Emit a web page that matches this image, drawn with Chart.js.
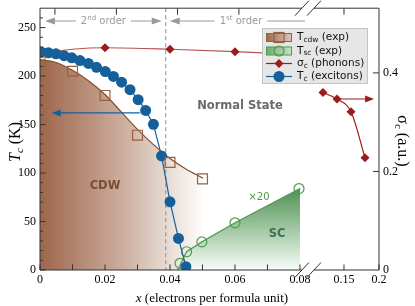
<!DOCTYPE html>
<html><head><meta charset="utf-8">
<script src="https://cdn.jsdelivr.net/npm/chart.js@4/dist/chart.umd.min.js"></script>
<style>html,body{margin:0;padding:0;background:#fff}canvas{display:block}</style>
</head><body>
<canvas id="c" width="415" height="306" style="width:415px;height:306px"></canvas>
<script>
// ---------------- data ----------------
const TCDW_X = [0, 0.01, 0.02, 0.03, 0.04, 0.05];
const TCDW_T = [215, 205, 180, 139, 111, 94];
const CDW_FIT_X = [0, 0.005, 0.01, 0.015, 0.02, 0.025, 0.03, 0.035, 0.04, 0.045, 0.05];
const CDW_FIT_T = [217, 214, 206, 195, 181, 163, 145, 129, 115, 104, 95];
const TSC_X = [0.0431, 0.0451, 0.0498, 0.06, 0.0797];
const TSC_T = [6.9, 18.8, 29, 48.7, 84];
const SC_FIT_X = [0.0424, 0.0451, 0.0498, 0.06, 0.08];
const SC_FIT_T = [0, 18.8, 29, 48.7, 84];
const SIGMA_X = [0.02, 0.04, 0.06, 0.12, 0.14, 0.16, 0.18];
const SIGMA_V = [0.451, 0.448, 0.443, 0.360, 0.347, 0.321, 0.228];
const SIGMA_FIT1_X = [0, 0.01, 0.02, 0.04, 0.06, 0.07];
const SIGMA_FIT1_V = [0.440, 0.448, 0.451, 0.448, 0.443, 0.440];
const SIGMA_FIT2_X = [0.12, 0.14, 0.16, 0.18];
const SIGMA_FIT2_V = [0.360, 0.347, 0.321, 0.228];
const TC_X = [0.0005, 0.0026, 0.0049, 0.0074, 0.0098, 0.0123, 0.0149, 0.0174, 0.0201, 0.0226,
              0.0251, 0.0277, 0.0302, 0.0325, 0.0349, 0.0374, 0.0400, 0.0426, 0.0449];
const TC_T = [224.6, 224, 223, 221, 218.8, 216, 213, 209, 204.7, 199.6,
              193.7, 186, 175.6, 164.6, 150.2, 117.6, 70.3, 32.6, 3.4];
const X_TICKS = [0, 0.01, 0.02, 0.03, 0.04, 0.05, 0.06, 0.07, 0.08, 0.15, 0.2];
const X_LABELED = {0: '0', 0.02: '0.02', 0.04: '0.04', 0.06: '0.06', 0.08: '0.08', 0.15: '0.15', 0.2: '0.2'};
const TOP_TICKS = [0.0046, 0.0235, 0.0423, 0.0612, 0.15];
const Y_TICKS = [0, 50, 100, 150, 200, 250];
const Y2_TICKS = [0, 0.2, 0.4];
const ORDER_SPLIT_X = 0.0387;           // dashed 1st/2nd order boundary
const EXC_ARROW = {x0: 0.0307, x1: 0.0036, T: 162};
const PHON_ARROW = {x0: 0.14, x1: 0.193, v: 0.347};
const BREAK_X = [0.0806, 0.0843];       // axis coordinates of the break gap

// broken x axis: segment 1 (0..0.08) linear, segment 2 (0.12..0.2) compressed
const SEG2_U0 = 0.09354, SEG2_K = 0.2154;
function U(x) { return x <= 0.1 ? x : SEG2_U0 + (x - 0.15) * SEG2_K; }
const UMAX = U(0.2);

const BROWN = '#98603f', BROWN_LINE = '#8a4d2d', BLUE = '#15609b', RED = '#9b1c1c', GREEN = '#4f9a4f';
const toXY = (xs, ys) => xs.map((x, i) => ({x: U(x), y: ys[i]}));

function cdwGradient(c) {
  const ch = c.chart; if (!ch.chartArea) return 'rgba(0,0,0,0)';
  const sx = ch.scales.x;
  const g = ch.ctx.createLinearGradient(sx.getPixelForValue(0), 0, sx.getPixelForValue(U(0.05)), 0);
  g.addColorStop(0, 'rgb(158,102,76)');
  g.addColorStop(0.5, 'rgb(203,172,156)');
  g.addColorStop(0.8, 'rgb(232,222,215)');
  g.addColorStop(1, 'rgb(253,251,250)');
  return g;
}
function scGradient(c) {
  const ch = c.chart; if (!ch.chartArea) return 'rgba(0,0,0,0)';
  const sy = ch.scales.y;
  const g = ch.ctx.createLinearGradient(0, sy.getPixelForValue(84), 0, sy.getPixelForValue(0));
  g.addColorStop(0, 'rgb(80,145,82)');
  g.addColorStop(0.55, 'rgb(170,205,172)');
  g.addColorStop(1, 'rgb(248,252,248)');
  return g;
}

function rich(ctx, parts, x, y, align) {
  let w = 0;
  parts.forEach(p => { ctx.font = p.f; p.w = ctx.measureText(p.t).width; w += p.w; });
  let cx = align === 'center' ? x - w / 2 : (align === 'right' ? x - w : x);
  ctx.textAlign = 'left';
  parts.forEach(p => { ctx.font = p.f; ctx.fillText(p.t, cx, y + (p.dy || 0)); cx += p.w; });
  return w;
}
function arrowHead(ctx, x, y, dir, len, half) {
  ctx.beginPath(); ctx.moveTo(x, y); ctx.lineTo(x - dir * len, y - half); ctx.lineTo(x - dir * len, y + half); ctx.closePath(); ctx.fill();
}

const deco = {
  id: 'deco',
  afterDatasetDraw(chart, args) {
    if (args.meta.label !== 'cdw fit') return;
    const ctx = chart.ctx, a = chart.chartArea, px = chart.scales.x.getPixelForValue(U(ORDER_SPLIT_X));
    ctx.save(); ctx.strokeStyle = '#8a8a8a'; ctx.lineWidth = 1; ctx.setLineDash([4, 3]);
    ctx.beginPath(); ctx.moveTo(px, a.top); ctx.lineTo(px, a.bottom); ctx.stroke(); ctx.restore();
  },
  afterDraw(chart) {
    const ctx = chart.ctx, a = chart.chartArea, sx = chart.scales.x, sy = chart.scales.y, sy2 = chart.scales.y2;
    ctx.save();
    // arrows
    ctx.strokeStyle = BLUE; ctx.fillStyle = BLUE; ctx.lineWidth = 1.2;
    let ay = sy.getPixelForValue(EXC_ARROW.T), ax0 = sx.getPixelForValue(U(EXC_ARROW.x0)), ax1 = sx.getPixelForValue(U(EXC_ARROW.x1));
    ctx.beginPath(); ctx.moveTo(ax0, ay); ctx.lineTo(ax1 + 6, ay); ctx.stroke(); arrowHead(ctx, ax1, ay, -1, 9, 3.5);
    ctx.strokeStyle = RED; ctx.fillStyle = RED;
    ay = sy2.getPixelForValue(PHON_ARROW.v); ax0 = sx.getPixelForValue(U(PHON_ARROW.x0)); ax1 = sx.getPixelForValue(U(PHON_ARROW.x1));
    ctx.beginPath(); ctx.moveTo(ax0, ay); ctx.lineTo(ax1 - 6, ay); ctx.stroke(); arrowHead(ctx, ax1, ay, 1, 9, 3.5);

    // order annotations
    const oy = 21, gray = '#9a9a9a';
    ctx.strokeStyle = gray; ctx.fillStyle = gray; ctx.lineWidth = 1.2;
    const split = sx.getPixelForValue(U(ORDER_SPLIT_X));
    const l2 = a.left + 5, r2 = split - 4;
    ctx.textBaseline = 'middle';
    const w2 = rich(ctx, [{t: '2', f: '10px "DejaVu Sans"'}, {t: 'nd', f: '7px "DejaVu Sans"', dy: -3}, {t: ' order', f: '10px "DejaVu Sans"'}], (l2 + r2) / 2, oy, 'center');
    const c2 = (l2 + r2) / 2;
    ctx.beginPath(); ctx.moveTo(l2 + 6, oy); ctx.lineTo(c2 - w2 / 2 - 5, oy); ctx.moveTo(c2 + w2 / 2 + 5, oy); ctx.lineTo(r2 - 6, oy); ctx.stroke();
    arrowHead(ctx, l2, oy, -1, 10, 3.5); arrowHead(ctx, r2, oy, 1, 10, 3.5);
    const l1 = split + 4, r1 = sx.getPixelForValue(BREAK_X[0]) + 3, c1 = 241;
    const w1 = rich(ctx, [{t: '1', f: '10px "DejaVu Sans"'}, {t: 'st', f: '7px "DejaVu Sans"', dy: -3}, {t: ' order', f: '10px "DejaVu Sans"'}], c1, oy, 'center');
    ctx.beginPath(); ctx.moveTo(l1 + 6, oy); ctx.lineTo(c1 - w1 / 2 - 5, oy); ctx.moveTo(c1 + w1 / 2 + 5, oy); ctx.lineTo(r1, oy); ctx.stroke();
    arrowHead(ctx, l1, oy, -1, 10, 3.5);

    // region labels
    ctx.textBaseline = 'alphabetic';
    ctx.fillStyle = '#6a6a6a'; rich(ctx, [{t: 'Normal State', f: 'bold 11.5px "DejaVu Sans"'}], 240, 109, 'center');
    ctx.fillStyle = '#7a4c33'; rich(ctx, [{t: 'CDW', f: 'bold 11.5px "DejaVu Sans"'}], 105, 189, 'center');
    ctx.fillStyle = '#3f7050'; rich(ctx, [{t: 'SC', f: 'bold 11.5px "DejaVu Sans"'}], 277, 237, 'center');
    ctx.fillStyle = '#4f9a4f'; rich(ctx, [{t: '×20', f: '10px "DejaVu Sans"'}], 259, 200, 'center');

    // frame with axis break
    const bxL = sx.getPixelForValue(BREAK_X[0]), bxR = sx.getPixelForValue(BREAK_X[1]);
    ctx.strokeStyle = '#333'; ctx.lineWidth = 1;
    ctx.beginPath();
    ctx.moveTo(a.left, a.top); ctx.lineTo(a.left, a.bottom);
    ctx.moveTo(a.right, a.top); ctx.lineTo(a.right, a.bottom);
    ctx.moveTo(a.left, a.bottom); ctx.lineTo(bxL, a.bottom); ctx.moveTo(bxR, a.bottom); ctx.lineTo(a.right, a.bottom);
    ctx.moveTo(a.left, a.top); ctx.lineTo(bxL, a.top); ctx.moveTo(bxR, a.top); ctx.lineTo(a.right, a.top);
    [a.top, a.bottom].forEach(yy => { [bxL, bxR].forEach(xx => { ctx.moveTo(xx - 7, yy + 7.5); ctx.lineTo(xx + 7, yy - 7.5); }); });
    // ticks (inward)
    Y_TICKS.forEach(v => { const y = sy.getPixelForValue(v); ctx.moveTo(a.left, y); ctx.lineTo(a.left + 5.5, y); });
    for (let v = 10; v < 270; v += 10) { if (v % 50) { const y = sy.getPixelForValue(v); ctx.moveTo(a.left, y); ctx.lineTo(a.left + 3, y); } }
    Y2_TICKS.forEach(v => { if (v > 0) { const y = sy2.getPixelForValue(v); ctx.moveTo(a.right, y); ctx.lineTo(a.right - 6, y); } });
    X_TICKS.forEach(v => { const x = sx.getPixelForValue(U(v)); ctx.moveTo(x, a.bottom); ctx.lineTo(x, a.bottom - 5.5); });
    TOP_TICKS.forEach(v => { const x = sx.getPixelForValue(U(v)); ctx.moveTo(x, a.top); ctx.lineTo(x, a.top + 6.5); });
    ctx.stroke();

    // axis titles
    ctx.fillStyle = '#000';
    rich(ctx, [{t: 'x', f: 'italic 13px "Liberation Serif"'}, {t: ' (electrons per formula unit)', f: '13px "Liberation Serif"'}], 212, 302, 'center');
    ctx.save(); ctx.translate(20, 142); ctx.rotate(-Math.PI / 2);
    rich(ctx, [{t: 'T', f: 'italic 16px "Liberation Serif"'}, {t: 'c', f: 'italic 11px "Liberation Serif"', dy: 3}, {t: ' (K)', f: '16px "Liberation Serif"'}], 0, 0, 'center');
    ctx.restore();
    ctx.save(); ctx.translate(398, 141); ctx.rotate(Math.PI / 2);
    rich(ctx, [{t: 'σ', f: '16px "Liberation Serif"'}, {t: 'c', f: '11px "Liberation Serif"', dy: 3}, {t: ' (a.u.)', f: '16px "Liberation Serif"'}], 0, 0, 'center');
    ctx.restore();

    // legend
    const L = {x: 262, y: 28, w: 106, h: 56};
    ctx.fillStyle = 'rgba(229,229,229,0.95)'; ctx.strokeStyle = '#c4c4c4'; ctx.lineWidth = 1;
    ctx.fillRect(L.x, L.y, L.w, L.h); ctx.strokeRect(L.x + 0.5, L.y + 0.5, L.w - 1, L.h - 1);
    const hx0 = 266, hx1 = 292, hc = 279, tx = 297, rows = [37.5, 51, 63.5, 76.5];
    // row 1: Tcdw
    let g = ctx.createLinearGradient(hx0, 0, hx1, 0); g.addColorStop(0, 'rgb(158,102,76)'); g.addColorStop(1, 'rgb(220,200,190)');
    ctx.fillStyle = g; ctx.fillRect(hx0, rows[0] - 4, hx1 - hx0, 8);
    ctx.strokeStyle = BROWN; ctx.lineWidth = 1; ctx.strokeRect(hx0 + 0.5, rows[0] - 4, hx1 - hx0 - 1, 8);
    ctx.lineWidth = 1.2; ctx.strokeRect(hc - 5, rows[0] - 5, 10, 10);
    // row 2: Tsc
    g = ctx.createLinearGradient(hx0, 0, hx1, 0); g.addColorStop(0, 'rgb(110,170,110)'); g.addColorStop(1, 'rgb(200,228,200)');
    ctx.fillStyle = g; ctx.fillRect(hx0, rows[1] - 4, hx1 - hx0, 8);
    ctx.strokeStyle = GREEN; ctx.lineWidth = 1; ctx.strokeRect(hx0 + 0.5, rows[1] - 4, hx1 - hx0 - 1, 8);
    ctx.lineWidth = 1.2; ctx.beginPath(); ctx.arc(hc, rows[1], 5, 0, Math.PI * 2); ctx.stroke();
    // row 3: sigma
    ctx.strokeStyle = RED; ctx.fillStyle = RED; ctx.beginPath(); ctx.moveTo(hx0, rows[2]); ctx.lineTo(hx1, rows[2]); ctx.stroke();
    ctx.beginPath(); ctx.moveTo(hc, rows[2] - 4.5); ctx.lineTo(hc + 4.5, rows[2]); ctx.lineTo(hc, rows[2] + 4.5); ctx.lineTo(hc - 4.5, rows[2]); ctx.closePath(); ctx.fill();
    // row 4: Tc excitons
    ctx.strokeStyle = BLUE; ctx.fillStyle = BLUE; ctx.beginPath(); ctx.moveTo(hx0, rows[3]); ctx.lineTo(hx1, rows[3]); ctx.stroke();
    ctx.beginPath(); ctx.arc(hc, rows[3], 5.5, 0, Math.PI * 2); ctx.fill();
    ctx.fillStyle = '#111'; ctx.textBaseline = 'middle';
    const F = '10.5px "DejaVu Sans"', FS = '7.5px "DejaVu Sans"';
    rich(ctx, [{t: 'T', f: F}, {t: 'cdw', f: FS, dy: 2.5}, {t: ' (exp)', f: F}], tx, rows[0], 'left');
    rich(ctx, [{t: 'T', f: F}, {t: 'sc', f: FS, dy: 2.5}, {t: ' (exp)', f: F}], tx, rows[1], 'left');
    rich(ctx, [{t: 'σ', f: F}, {t: 'c', f: FS, dy: 2.5}, {t: ' (phonons)', f: F}], tx, rows[2], 'left');
    rich(ctx, [{t: 'T', f: F}, {t: 'c', f: FS, dy: 2.5}, {t: ' (excitons)', f: F}], tx, rows[3], 'left');
    ctx.restore();
  }
};

Chart.defaults.font.family = '"Liberation Serif", serif';
Chart.defaults.font.size = 12;
Chart.defaults.color = '#000';

new Chart(document.getElementById('c'), {
  type: 'line',
  data: {
    datasets: [
      {label: 'Tcdw', data: toXY(TCDW_X, TCDW_T), showLine: false, pointStyle: 'rect', pointRadius: 7,
       pointBorderColor: BROWN, pointBackgroundColor: 'rgba(0,0,0,0)', pointBorderWidth: 1.2, order: 1},
      {label: 'Tc exc', data: toXY(TC_X, TC_T), showLine: true, borderColor: BLUE, borderWidth: 1.2, pointRadius: 5.5,
       pointBackgroundColor: BLUE, pointBorderColor: BLUE, pointBorderWidth: 0, tension: 0, order: 2},
      {label: 'sigma', data: toXY(SIGMA_X, SIGMA_V), yAxisID: 'y2', showLine: false, pointStyle: 'rectRot', pointRadius: 4.5,
       pointBackgroundColor: RED, pointBorderColor: RED, pointBorderWidth: 0, order: 3},
      {label: 'sigma fit1', data: toXY(SIGMA_FIT1_X, SIGMA_FIT1_V), yAxisID: 'y2', showLine: true, pointRadius: 0,
       borderColor: 'rgba(165,40,40,0.8)', borderWidth: 1.2, cubicInterpolationMode: 'monotone', order: 4},
      {label: 'sigma fit2', data: toXY(SIGMA_FIT2_X, SIGMA_FIT2_V), yAxisID: 'y2', showLine: true, pointRadius: 0,
       borderColor: RED, borderWidth: 1.2, cubicInterpolationMode: 'monotone', order: 4},
      {label: 'Tsc', data: toXY(TSC_X, TSC_T), showLine: false, pointStyle: 'circle', pointRadius: 5,
       pointBorderColor: GREEN, pointBackgroundColor: 'rgba(0,0,0,0)', pointBorderWidth: 1.2, order: 5},
      {label: 'sc fit', data: toXY(SC_FIT_X, SC_FIT_T), showLine: true, pointRadius: 0, borderColor: GREEN, borderWidth: 1.2,
       fill: 'origin', backgroundColor: scGradient, tension: 0, order: 6},
      {label: 'cdw fit', data: toXY(CDW_FIT_X, CDW_FIT_T), showLine: true, pointRadius: 0, borderColor: BROWN_LINE, borderWidth: 1.2,
       fill: 'origin', backgroundColor: cdwGradient, cubicInterpolationMode: 'monotone', order: 7}
    ]
  },
  options: {
    responsive: false, animation: false, events: [], devicePixelRatio: 1,
    layout: {padding: 0},
    plugins: {legend: {display: false}, tooltip: {enabled: false}},
    elements: {line: {borderCapStyle: 'round'}},
    scales: {
      x: {type: 'linear', position: 'bottom', min: 0, max: UMAX,
          afterFit(s) { s.height = 36; s.paddingLeft = 0; s.paddingRight = 0; },
          afterBuildTicks(s) { s.ticks = X_TICKS.map(v => ({value: U(v)})); },
          ticks: {autoSkip: false, maxRotation: 0, padding: 3, font: {size: 12},
                  callback(val, i) { const v = X_TICKS[i]; return X_LABELED[v] !== undefined ? X_LABELED[v] : ''; }},
          grid: {display: false, drawTicks: false}, border: {display: false}},
      xTop: {type: 'linear', position: 'top', min: 0, max: UMAX,
             afterFit(s) { s.height = 7; s.paddingLeft = 0; s.paddingRight = 0; },
             ticks: {display: false}, grid: {display: false, drawTicks: false}, border: {display: false}},
      y: {type: 'linear', position: 'left', min: 0, max: 270,
          afterFit(s) { s.width = 40; s.paddingTop = 0; s.paddingBottom = 0; },
          afterBuildTicks(s) { s.ticks = Y_TICKS.map(v => ({value: v})); },
          ticks: {padding: 4, font: {size: 12}, callback: v => String(v)},
          grid: {display: false, drawTicks: false}, border: {display: false}},
      y2: {type: 'linear', position: 'right', min: 0, max: 263 / 495,
           afterFit(s) { s.width = 36; s.paddingTop = 0; s.paddingBottom = 0; },
           afterBuildTicks(s) { s.ticks = Y2_TICKS.map(v => ({value: v})); },
           ticks: {padding: 4, font: {size: 12}, callback: v => (v === 0 ? '0' : v.toFixed(1))},
           grid: {display: false, drawTicks: false}, border: {display: false}}
    }
  },
  plugins: [deco]
});
</script>
</body></html>
